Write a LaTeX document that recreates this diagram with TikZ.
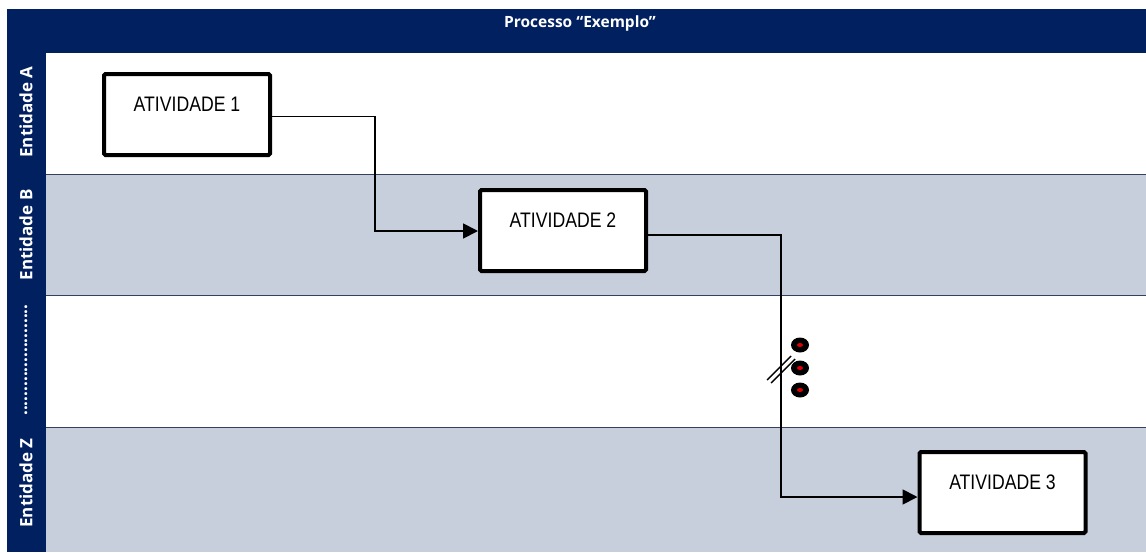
\documentclass[tikz,border=0pt]{standalone}
\usepackage{fontspec}
\setmainfont{Open Sans}
\newfontfamily\boxfont[FakeStretch=0.84]{Liberation Sans}
\usetikzlibrary{arrows.meta,calc}
\definecolor{navy}{HTML}{002060}
\definecolor{lanegrey}{HTML}{C8CFDC}
\definecolor{laneline}{HTML}{33415E}
\definecolor{dotred}{HTML}{E00000}

\begin{document}
\begin{tikzpicture}[x=1pt,y=-1pt,
  activity/.style={draw=black, line width=4pt, rounded corners=1.5pt, fill=white,
    minimum width=166pt, minimum height=81pt, inner sep=0pt,
    font=\boxfont\fontsize{21}{21}\selectfont, text height=15pt, text depth=22pt},
  lanelabel/.style={rotate=90, text=white, font=\bfseries\fontsize{17}{17}\selectfont},
  conn/.style={draw=black, line width=1.8pt},
  tip/.style={-{Triangle[length=15pt,width=15pt]}},
  sep/.style={draw=laneline, line width=1pt}]
\useasboundingbox (0,0) rectangle (1146,552);

% frame, title bar and lanes
\fill[navy] (7,9) rectangle (1146,552);
\fill[white] (46,53) rectangle (1146,174);
\fill[lanegrey] (46,174) rectangle (1146,295);
\fill[white] (46,295) rectangle (1146,427);
\fill[lanegrey] (46,427) rectangle (1146,552);
\draw[sep] (46,174) -- (1146,174);
\draw[sep] (46,295) -- (1146,295);
\draw[sep] (46,427) -- (1146,427);

\node[text=white, font=\bfseries\fontsize{15.5}{15.5}\selectfont] (title) at (580,23) {Processo “Exemplo”};

\node[lanelabel] (laneA) at (26,112) {Entidade A};
\node[lanelabel] (laneB) at (26,235) {Entidade B};
\node[lanelabel] (laneD) at (26,360) {.......................};
\node[lanelabel] (laneZ) at (26,483) {Entidade Z};

% activities
\node[activity] (a1) at (187,114.5) {ATIVIDADE 1};
\node[activity] (a2) at (563,230.5) {ATIVIDADE 2};
\node[activity] (a3) at (1002.5,492.5) {ATIVIDADE 3};

% flow routing columns
\coordinate (c1) at (375,0);
\coordinate (c2) at (781,0);

% flows
\draw[conn, tip] ([yshift=-2pt]a1.east) -- ([yshift=-2pt]a1.east -| c1) |- ([yshift=-0.5pt]a2.west);
\draw[conn, tip] ([yshift=-4.5pt]a2.east) -- ([yshift=-4.5pt]a2.east -| c2) |- ([yshift=-4.5pt]a3.west);

% break marks on the second flow
\coordinate (brky) at (0,369);
\coordinate (brk) at (c2 |- brky);
\draw[line width=1.4pt] ($(brk)+(-14,11)$) -- ++(24,-24);
\draw[line width=1.4pt] ($(brk)+(-10,14)$) -- ++(24,-24);

% ellipsis markers
\foreach \yy in {345,368,390} {
  \fill[black] (800,\yy) ellipse [x radius=9pt, y radius=7.5pt];
  \fill[dotred] (800,\yy) ellipse [x radius=3pt, y radius=2pt];
}
\end{tikzpicture}
\end{document}
